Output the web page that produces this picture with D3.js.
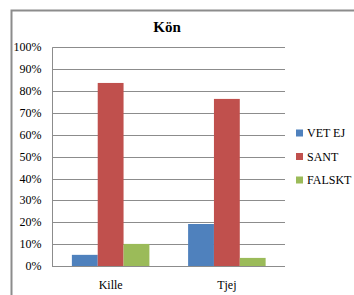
<!DOCTYPE html>
<html>
<head>
<meta charset="utf-8">
<script src="https://cdn.jsdelivr.net/npm/d3@7"></script>
</head>
<body style="margin:0">
<script>
let categories = ['Kille', 'Tjej'];
let seriesNames = ['VET EJ', 'SANT', 'FALSKT'];
let seriesColors = ['#4F81BD', '#C0504D', '#9BBB59'];
let vetEj = [5.1, 19.2];
let sant = [83.7, 76.4];
let falskt = [10.1, 3.7];
let yTicks = [0, 10, 20, 30, 40, 50, 60, 70, 80, 90, 100];

let values = [vetEj, sant, falskt];
let svg = d3.select('body').append('svg').attr('width', 354).attr('height', 295);

// outer chart frame
svg.append('path')
  .attr('d', 'M11.5,296 L11.5,10.5 L356,10.5')
  .attr('fill', 'none').attr('stroke', '#8c8c8c').attr('stroke-width', 2);

svg.append('text').attr('x', 167).attr('y', 32).attr('text-anchor', 'middle')
  .attr('style', 'font: bold 15px "Liberation Serif"').text('Kön');

let x = d3.scaleBand().domain(categories).range([52.5, 285]).paddingInner(0.333).paddingOuter(0.1667);
let x1 = d3.scaleBand().domain(seriesNames).range([0, x.bandwidth()]);
let y = d3.scaleLinear().domain([0, 100]).range([266, 47.3]);

// gridlines
svg.append('g').selectAll('line').data(yTicks).enter().append('line')
  .attr('x1', 52.5).attr('x2', 285)
  .attr('y1', d => Math.round(y(d)) + 0.5).attr('y2', d => Math.round(y(d)) + 0.5)
  .attr('stroke', '#8c8c8c').attr('stroke-width', 1);

svg.append('line').attr('x1', 52.5).attr('x2', 52.5).attr('y1', y(100)).attr('y2', y(0) + 1)
  .attr('stroke', '#8c8c8c');

svg.append('g').selectAll('text').data(yTicks).enter().append('text')
  .attr('x', 41.5).attr('y', d => y(d) + 4).attr('text-anchor', 'end')
  .attr('style', 'font: 12px "Liberation Serif"').text(d => d + '%');

// bars
seriesNames.forEach(function(s, i) {
  svg.append('g').selectAll('rect').data(categories).enter().append('rect')
    .attr('x', c => x(c) + x1(s))
    .attr('width', x1.bandwidth())
    .attr('y', (c, j) => y(values[i][j]))
    .attr('height', (c, j) => y(0) - y(values[i][j]))
    .attr('fill', seriesColors[i]);
});

svg.append('g').selectAll('text').data(categories).enter().append('text')
  .attr('x', c => x(c) + x.bandwidth() / 2).attr('y', 289).attr('text-anchor', 'middle')
  .attr('style', 'font: 12px "Liberation Serif"').text(c => c);

// legend
let legend = svg.append('g').selectAll('g').data(seriesNames).enter().append('g')
  .attr('transform', (d, i) => 'translate(296,' + (133 + i * 23.5) + ')');
legend.append('rect').attr('x', 0).attr('y', -3.5).attr('width', 7).attr('height', 7)
  .attr('fill', (d, i) => seriesColors[i]);
legend.append('text').attr('x', 11).attr('y', 4)
  .attr('style', 'font: 12px "Liberation Serif"').text(d => d);
</script>
</body>
</html>
